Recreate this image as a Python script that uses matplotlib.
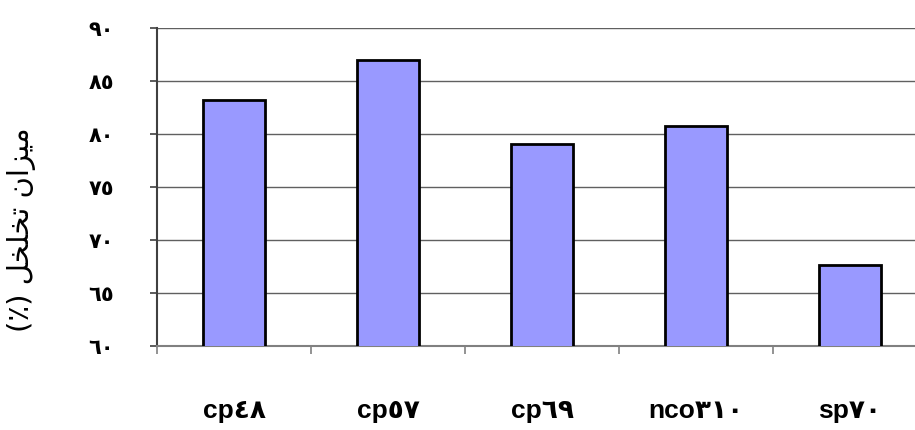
import matplotlib
matplotlib.use("Agg")
import matplotlib.pyplot as plt

categories = ["cp٤٨", "cp٥٧", "cp٦٩", "nco٣١٠", "sp٧٠"]
porosity = [83.2, 87.0, 79.1, 80.8, 67.6]
y_ticks = [60, 65, 70, 75, 80, 85, 90]
y_tick_labels = ["٦٠", "٦٥", "٧٠", "٧٥", "٨٠", "٨٥", "٩٠"]

# "میزان تخلخل (٪)" pre-shaped into visual order (matplotlib does no bidi/shaping)
y_label = "(٪) " + "\uFEDE\uFEA8\uFEE0\uFEA8\uFE97" + " " + "\uFEE5\uFE8D\uFEB0\uFEF4\uFEE3"

fig = plt.figure(figsize=(9.15, 4.30), dpi=100)
ax = fig.add_axes([157 / 915, 1 - 346 / 430, 770 / 915, 318 / 430])

x = range(len(categories))
ax.bar(x, porosity, width=0.40, bottom=0, color="#9999FF",
       edgecolor="black", linewidth=2, zorder=3)

ax.set_xlim(-0.5, 4.5)
ax.set_ylim(60, 90)
ax.set_yticks(y_ticks)
ax.set_yticklabels(y_tick_labels, fontsize=15, fontweight="bold",
                   family=["DejaVu Sans"])
ax.set_xticks([i - 0.5 for i in range(len(categories) + 1)])
ax.set_xticklabels([])
ax.set_xticks(list(x), minor=True)
ax.set_xticklabels(categories, minor=True, fontsize=19, fontweight="bold",
                   family=["Liberation Sans", "DejaVu Sans"])
ax.tick_params(axis="x", which="minor", length=0, pad=38)
ax.tick_params(axis="x", which="major", length=6, color="#808080", width=1.2)
ax.tick_params(axis="y", length=5, color="#404040", width=1.2, pad=26)

ax.yaxis.grid(True, color="#606060", linewidth=1.0, zorder=0)
ax.set_axisbelow(True)
for side in ["top", "right"]:
    ax.spines[side].set_visible(False)
ax.spines["left"].set_color("#404040")
ax.spines["left"].set_linewidth(1.5)
ax.spines["bottom"].set_color("#808080")
ax.spines["bottom"].set_linewidth(1.5)

fig.text(22 / 915, 1 - 230 / 430, y_label, rotation=90, ha="center", va="center",
         fontsize=21, family=["DejaVu Sans"])

fig.savefig("out.png", dpi=100)
